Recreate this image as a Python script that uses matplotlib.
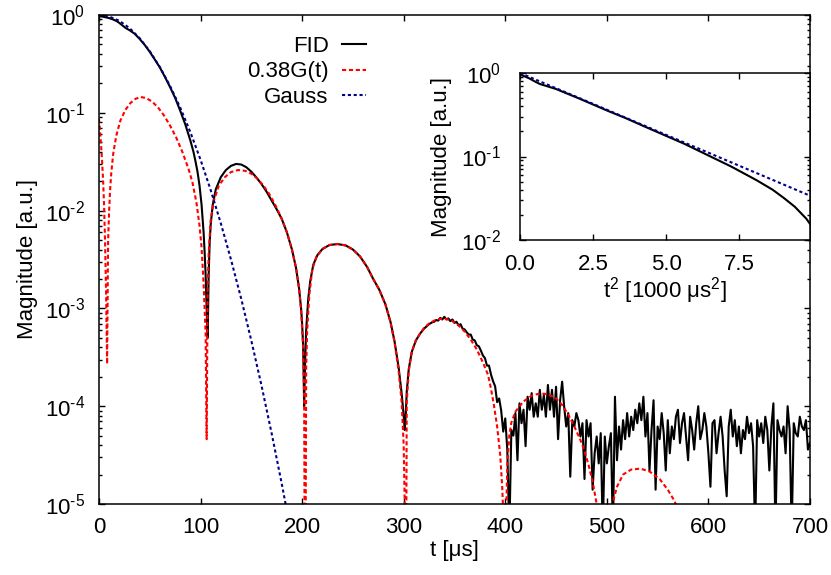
import matplotlib
matplotlib.use("Agg")
import matplotlib.pyplot as plt
import numpy
from matplotlib.ticker import NullLocator, LogLocator, FixedLocator, FormatStrFormatter, FuncFormatter

# FID magnitude, smooth part (t in us)
fid_t = [0, 3, 6, 10, 14, 18, 22, 26, 30, 35, 40, 45, 50, 55, 60, 65, 70, 75, 80, 85,
         90, 93, 95, 97, 99, 101, 103, 104, 105, 106, 107, 108, 109, 110, 112, 115, 120,
         125, 130, 135, 140, 145, 150, 155, 160, 165, 170, 175, 180, 185, 190, 194, 197,
         199, 200, 201, 202, 203, 204, 206, 208, 211, 215, 220, 227, 235, 243, 250, 257,
         264, 270, 276, 282, 287, 291, 295, 298, 300, 301, 302, 303, 305, 308, 312, 316,
         320, 325, 328]
fid_v = [0.97, 0.965, 0.95, 0.93, 0.90, 0.86, 0.80, 0.74, 0.70, 0.645, 0.57, 0.495, 0.42,
         0.35, 0.29, 0.232, 0.183, 0.142, 0.105, 0.076, 0.052, 0.040, 0.032, 0.025, 0.018,
         0.0115, 6.0e-3, 3.8e-3, 2.2e-3, 1.0e-3, 5.0e-4, 2.2e-3, 4.8e-3, 7.2e-3, 0.0115,
         0.0165, 0.0220, 0.0260, 0.0287, 0.0300, 0.0296, 0.0278, 0.0250, 0.0218, 0.0187,
         0.0156, 0.0127, 0.0103, 8.2e-3, 6.0e-3, 4.0e-3, 2.6e-3, 1.6e-3, 1.0e-3, 7.0e-4,
         4.2e-4, 1.0e-4, 3.0e-4, 6.0e-4, 1.25e-3, 1.9e-3, 2.8e-3, 3.5e-3, 4.05e-3, 4.45e-3,
         4.55e-3, 4.4e-3, 4.0e-3, 3.4e-3, 2.65e-3, 2.0e-3, 1.55e-3, 1.1e-3, 7.3e-4, 4.6e-4,
         2.5e-4, 1.35e-4, 8.0e-5, 5.7e-5, 8.0e-5, 1.4e-4, 2.4e-4, 3.6e-4, 4.7e-4, 5.5e-4,
         6.2e-4, 6.9e-4, 7.2e-4]

# FID noisy tail, one sample every 2 us starting at 330 us
tail_start = 330
fid_tail = [7.3e-4, 7.6e-4, 7.5e-4, 8.0e-4, 7.7e-4, 8.2e-4, 7.7e-4, 7.9e-4, 7.4e-4, 7.7e-4,
            7.1e-4, 7.3e-4, 6.7e-4, 6.9e-4, 6.2e-4, 6.1e-4, 5.7e-4, 5.4e-4, 5.4e-4, 4.8e-4,
            4.7e-4, 4.2e-4, 4.1e-4, 3.7e-4, 3.3e-4, 3.1e-4, 2.6e-4, 2.6e-4, 2.1e-4, 1.8e-4,
            1.6e-4, 1.1e-4, 1.2e-4,
            9.0e-5, 5.5e-5, 7.5e-5, 3.6e-5, 5e-6, 5.7e-5, 5.0e-5, 8.5e-5, 2.8e-5, 1.07e-4,
            6.7e-5, 9.2e-5, 3.9e-5, 1.25e-4, 9.2e-5, 1.36e-4, 7.8e-5, 1.07e-4, 7.8e-5, 1.47e-4,
            9.2e-5, 1.3e-4, 7.8e-5, 1.65e-4, 9.2e-5, 1.47e-4, 7.8e-5, 1.58e-4, 4.6e-5, 1.15e-4,
            1.78e-4, 9.9e-5, 6.2e-5, 8.5e-5, 1.9e-5, 7.2e-5, 6.2e-5, 8.5e-5, 7.2e-5, 4.9e-5,
            6.7e-5, 1.8e-5, 7.2e-5, 4.9e-5, 6.7e-5, 1.4e-5, 3.3e-5, 4.9e-5, 2.6e-5, 5.3e-5,
            5e-6, 4.9e-5, 2.6e-5, 3.9e-5,
            5.3e-5, 5e-6, 1.25e-4, 2.8e-5, 6.2e-5, 3.6e-5, 7.2e-5, 4.6e-5, 8.5e-5, 4.9e-5,
            7.8e-5, 5.7e-5, 9.2e-5, 6.7e-5, 1.07e-4, 7.2e-5, 1.25e-4, 4.9e-5, 8.5e-5, 2.2e-5,
            5.7e-5, 1.15e-4, 1.4e-5, 6.2e-5, 4.6e-5, 8.5e-5, 5.3e-5, 2.2e-5, 7.2e-5, 3.3e-5,
            6.2e-5, 4.6e-5, 7.8e-5, 9.2e-5, 4.2e-5, 6.7e-5, 8.5e-5, 4.9e-5, 2.8e-5, 7.8e-5,
            5.7e-5, 3.6e-5, 6.7e-5, 1.0e-4, 4.6e-5, 5.7e-5, 8.5e-5, 6.2e-5, 3.3e-5, 1.5e-5,
            6.7e-5, 7.2e-5, 3.3e-5, 5.3e-5, 7.8e-5, 4.9e-5, 2.2e-5, 1.2e-5, 6.2e-5, 9.2e-5,
            4.9e-5, 7.2e-5, 3.9e-5, 6.2e-5, 3.3e-5, 5.7e-5, 4.6e-5, 7.8e-5, 5.3e-5, 6.7e-5,
            3.9e-5, 5e-6, 7.2e-5, 4.9e-5, 6.7e-5, 4.2e-5, 7.8e-5, 5.7e-5, 2.2e-5, 6.2e-5,
            1.07e-4, 5e-6, 7.2e-5, 5.7e-5, 4.9e-5, 6.2e-5, 3.3e-5, 1.0e-4, 5.7e-5, 5e-6,
            6.7e-5, 5.3e-5, 4.9e-5, 7.8e-5, 6.2e-5, 5.7e-5, 7.2e-5, 3.6e-5, 4.2e-5]

# 0.38 G(t)
g_t = [0, 1, 2, 3, 4, 5, 6, 7, 8, 9, 10, 11, 12, 14, 17, 21, 26, 31, 36, 41, 46, 52, 58,
       64, 70, 76, 82, 88, 92, 96, 99, 101, 103, 105, 106, 107, 108, 110, 113, 118, 124,
       130, 137, 144, 150, 156, 162, 168, 174, 180, 185, 190, 194, 197, 199, 201, 202,
       203, 204, 205, 207, 210, 214, 220, 227, 235, 243, 250, 257, 264, 270, 276, 282,
       287, 291, 295, 298, 300, 301, 302, 303, 305, 308, 312, 316, 320, 325, 330, 336,
       342, 348, 354, 360, 366, 372, 378, 383, 386, 389, 392, 395, 397, 398, 399.5, 401,
       402, 404, 406, 410, 418, 426, 434, 442, 450, 456, 462, 468, 474, 478, 482, 486,
       490, 492, 498, 504, 507, 510, 516, 524, 533, 542, 552, 560, 566, 570, 580]
g_v = [0.087, 0.066, 0.048, 0.033, 0.021, 0.0115, 4.8e-3, 1.4e-3, 2.7e-4, 5.0e-3, 0.0100,
       0.0165, 0.0235, 0.038, 0.058, 0.083, 0.107, 0.126, 0.139, 0.145, 0.142, 0.131, 0.114,
       0.094, 0.074, 0.056, 0.040, 0.027, 0.0195, 0.0120, 7.0e-3, 4.2e-3, 1.8e-3, 5.5e-4,
       4.6e-5, 1.6e-3, 3.6e-3, 8.0e-3, 0.0125, 0.0180, 0.0220, 0.0248, 0.0260, 0.0255,
       0.0238, 0.0212, 0.0180, 0.0146, 0.0112, 8.2e-3, 6.0e-3, 4.0e-3, 2.6e-3, 1.6e-3,
       9.5e-4, 4.0e-4, 1.3e-4, 1e-7, 2.5e-4, 6.0e-4, 1.35e-3, 2.5e-3, 3.35e-3, 4.05e-3,
       4.45e-3, 4.55e-3, 4.4e-3, 4.0e-3, 3.4e-3, 2.65e-3, 2.0e-3, 1.55e-3, 1.1e-3, 7.2e-4,
       4.5e-4, 2.3e-4, 1.1e-4, 4.0e-5, 1.0e-5, 1e-7, 1.1e-4, 2.3e-4, 3.6e-4, 4.7e-4, 5.5e-4,
       6.3e-4, 7.0e-4, 7.5e-4, 7.8e-4, 7.8e-4, 7.4e-4, 6.7e-4, 5.8e-4, 4.8e-4, 3.8e-4,
       2.8e-4, 2.1e-4, 1.5e-4, 1.0e-4, 6.2e-5, 3.2e-5, 1.5e-5, 8e-6, 1e-7, 8e-6, 2.5e-5,
       5.0e-5, 6.8e-5, 8.8e-5, 1.12e-4, 1.28e-4, 1.35e-4, 1.33e-4, 1.2e-4, 1.03e-4, 8.2e-5,
       6.2e-5, 4.5e-5, 3.5e-5, 2.5e-5, 1.7e-5, 1.0e-5, 7e-6, 1e-7, 7e-6, 1.15e-5, 1.5e-5,
       2.0e-5, 2.25e-5, 2.3e-5, 2.15e-5, 1.8e-5, 1.4e-5, 1.1e-5, 9e-6, 4e-6]

# Gaussian fit
gauss_t = [0, 10, 20, 30, 40, 50, 60, 70, 80, 90, 100, 110, 120, 130, 140, 150, 160, 170, 180, 190]
gauss_v = [1.0, 0.966, 0.873, 0.736, 0.580, 0.427, 0.293, 0.188, 0.113, 0.0633, 0.0331,
           0.0162, 7.39e-3, 3.15e-3, 1.26e-3, 4.68e-4, 1.63e-4, 5.28e-5, 1.60e-5, 4.54e-6]

t_all = numpy.array(fid_t + list(range(tail_start, tail_start + 2 * len(fid_tail), 2)), dtype=float)
v_all = numpy.array(fid_v + fid_tail)
gt = numpy.array(gauss_t, dtype=float)
gv = numpy.array(gauss_v)


def pow10(v, pos):
    n = int(round(numpy.log10(v)))
    if n < 0:
        return r'10$^{\text{-}%d}$' % (-n)
    return r'10$^{%d}$' % n


plt.rc('font', family='Liberation Sans', size=16)
plt.rc('mathtext', fontset='custom', rm='Liberation Sans', it='Liberation Sans:italic', default='regular')
plt.rc('axes', unicode_minus=False, linewidth=1.1)

blue = '#00008b'

fig = plt.figure(figsize=(8.31, 5.75), dpi=100)
ax = fig.add_axes([0.1191, 0.1235, 0.8556, 0.8504])

ax.plot(t_all, v_all, color='black', lw=1.5, label='FID')
ax.plot(g_t, g_v, color='red', lw=1.5, dashes=(2.0, 1.3), label='0.38G(t)')
ax.plot(gt, gv, color=blue, lw=1.5, dashes=(1.5, 1.3), label='Gauss')

ax.set_yscale('log')
ax.set_xlim(0, 700)
ax.set_ylim(1e-5, 1)
ax.set_xticks(range(0, 701, 100))
ax.xaxis.set_minor_locator(NullLocator())
ax.yaxis.set_minor_locator(LogLocator(base=10, subs=range(2, 10)))
ax.yaxis.set_major_formatter(FuncFormatter(pow10))
ax.tick_params(which='both', direction='in', top=True, right=True)
ax.tick_params(which='major', length=4, width=1)
ax.tick_params(which='minor', length=2, width=1)
ax.tick_params(axis='x', pad=9.5)
ax.tick_params(axis='y', pad=10)
ax.set_xlabel('t [μs]', labelpad=1)
ax.set_ylabel('Magnitude [a.u.]', labelpad=5)

ax.legend(loc='upper right', bbox_to_anchor=(0.376, 0.957), markerfirst=False, frameon=False,
          handlelength=1.1, handletextpad=0.6, labelspacing=0.2, borderpad=0, borderaxespad=0)

# inset: magnitude against t^2
ins = fig.add_axes([0.6258, 0.5826, 0.349, 0.2904])
ins.plot(t_all ** 2 / 1000.0, v_all, color='black', lw=1.5)
ins.plot(gt ** 2 / 1000.0, gv, color=blue, lw=1.5, dashes=(1.5, 1.3))
ins.set_yscale('log')
ins.set_xlim(0, 9.93)
ins.set_ylim(0.01, 1)
ins.xaxis.set_major_locator(FixedLocator([0, 2.5, 5.0, 7.5]))
ins.xaxis.set_major_formatter(FormatStrFormatter('%.1f'))
ins.xaxis.set_minor_locator(NullLocator())
ins.yaxis.set_minor_locator(LogLocator(base=10, subs=range(2, 10)))
ins.yaxis.set_major_formatter(FuncFormatter(pow10))
ins.tick_params(which='both', direction='in', top=True, right=True)
ins.tick_params(which='major', length=4, width=1)
ins.tick_params(which='minor', length=2, width=1)
ins.tick_params(axis='x', pad=10)
ins.tick_params(axis='y', pad=14)
ins.set_xlabel('t$^2$ [1000 μs$^2$]', labelpad=0)
ins.set_ylabel('Magnitude [a.u.]', labelpad=6)

plt.savefig('out.png', dpi=100)
